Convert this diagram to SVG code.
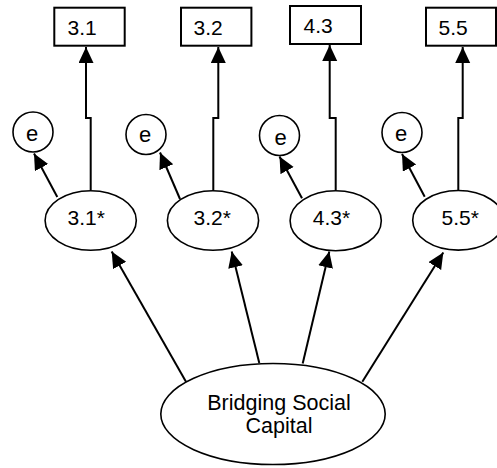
<svg xmlns="http://www.w3.org/2000/svg" width="497" height="468" viewBox="0 0 497 468">
<defs>
<style>
.box{fill:#fff;stroke:#000;stroke-width:2}
.ell{fill:#fff;stroke:#000;stroke-width:1.6}
.con{fill:none;stroke:#000;stroke-width:2}
text{font-family:"Liberation Sans",Arial,sans-serif;font-size:21px;fill:#000}
.e{font-size:22px;text-anchor:middle}
.c{text-anchor:middle;font-size:21.5px}
</style>
<marker id="ah" markerUnits="userSpaceOnUse" markerWidth="17" markerHeight="16" refX="16" refY="7.5" orient="auto">
<path d="M0,0 L16,7.5 L0,15 Z" fill="#000"/>
</marker>
</defs>
<rect width="497" height="468" fill="#fff"/>
<g id="connectors">
<path class="con" d="M90.7,190 V118 H86 V47" marker-end="url(#ah)"/>
<path class="con" d="M213.3,190 V118 H218.3 V47" marker-end="url(#ah)"/>
<path class="con" d="M335.7,190 V118 H329.7 V45" marker-end="url(#ah)"/>
<path class="con" d="M458.3,190 V118 H462.7 V47" marker-end="url(#ah)"/>
<path class="con" d="M57.3,197 L34,153.5" marker-end="url(#ah)"/>
<path class="con" d="M180,199 L160,152.5" marker-end="url(#ah)"/>
<path class="con" d="M302,198.3 L279.5,156.5" marker-end="url(#ah)"/>
<path class="con" d="M424.7,196.7 L402,154" marker-end="url(#ah)"/>
<path class="con" d="M186,381.7 L111.7,251.5" marker-end="url(#ah)"/>
<path class="con" d="M259.3,363 L231.7,251.5" marker-end="url(#ah)"/>
<path class="con" d="M302.7,363.5 L329.3,251.5" marker-end="url(#ah)"/>
<path class="con" d="M362.3,381.7 L443.3,252.5" marker-end="url(#ah)"/>
</g>
<g id="box31"><rect class="box" x="54.3" y="7.7" width="70.4" height="38"/><text x="67.5" y="35">3.1</text></g>
<g id="box32"><rect class="box" x="181" y="7.7" width="70.4" height="38"/><text x="193.5" y="35">3.2</text></g>
<g id="box43"><rect class="box" x="290" y="6" width="71" height="38"/><text x="303.5" y="32.7">4.3</text></g>
<g id="box55"><rect class="box" x="426" y="7.7" width="70" height="38"/><text x="438.5" y="35">5.5</text></g>
<g id="e1"><circle class="ell" cx="33" cy="132" r="20"/><text class="e" x="32" y="140.7">e</text></g>
<g id="e2"><circle class="ell" cx="146" cy="134.5" r="20"/><text class="e" x="145" y="141.7">e</text></g>
<g id="e3"><circle class="ell" cx="279.5" cy="135.5" r="20"/><text class="e" x="280.5" y="145">e</text></g>
<g id="e4"><circle class="ell" cx="402" cy="132.5" r="20"/><text class="e" x="401" y="140.7">e</text></g>
<g id="l31"><ellipse class="ell" cx="90.7" cy="220.5" rx="45.6" ry="29.8"/><text x="67.5" y="225">3.1*</text></g>
<g id="l32"><ellipse class="ell" cx="213" cy="220.5" rx="45.6" ry="29.8"/><text x="193.5" y="225">3.2*</text></g>
<g id="l43"><ellipse class="ell" cx="335.7" cy="220.8" rx="45.6" ry="30"/><text x="312.8" y="225">4.3*</text></g>
<g id="l55"><ellipse class="ell" cx="458.3" cy="220.3" rx="45.6" ry="29.8"/><text x="441.5" y="225">5.5*</text></g>
<g id="bsc"><ellipse class="ell" cx="273" cy="414" rx="112.2" ry="50.5"/><text class="c" x="279" y="410">Bridging Social</text><text class="c" x="279" y="433.3">Capital</text></g>
</svg>
